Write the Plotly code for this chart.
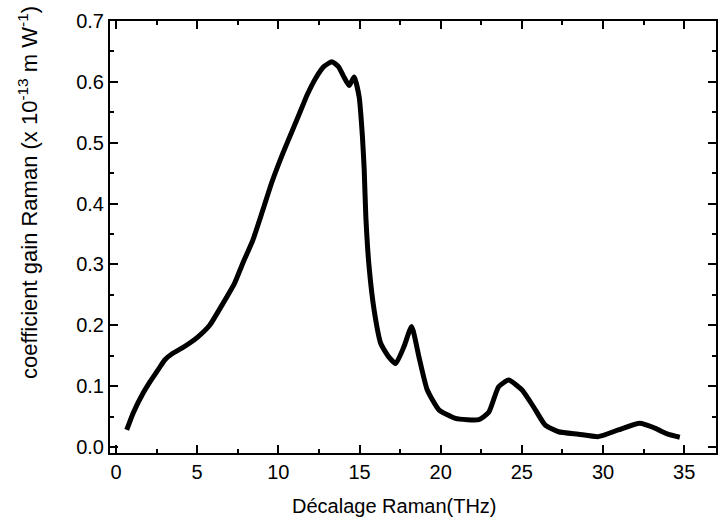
import plotly.graph_objects as go

# Raman shift (THz) and Raman gain coefficient (x1e-13 m/W)
shift_thz = [0.66, 1.06, 1.68, 2.09, 2.6, 3.0, 3.5, 4.03, 4.5, 5.05, 5.77, 6.59, 7.3,
             7.81, 8.43, 9.04, 9.6, 10.27, 10.8, 11.3, 11.8, 12.3, 12.8, 13.3, 13.7,
             14.0, 14.36, 14.67, 14.98, 15.18, 15.29, 15.39, 15.59, 15.9, 16.31,
             16.8, 17.23, 17.74, 18.21, 18.66, 19.17, 19.89, 20.91, 22.35, 22.96,
             23.57, 24.19, 25.0, 25.72, 26.44, 27.26, 28.48, 29.71, 30.94, 32.27,
             33.19, 34.0, 34.73]
gain = [0.028, 0.056, 0.089, 0.107, 0.127, 0.143, 0.154, 0.162, 0.17, 0.181, 0.2,
        0.236, 0.269, 0.302, 0.34, 0.389, 0.435, 0.482, 0.516, 0.548, 0.58, 0.606,
        0.625, 0.633, 0.625, 0.61, 0.594, 0.608, 0.575, 0.51, 0.455, 0.378, 0.296,
        0.225, 0.17, 0.148, 0.137, 0.165, 0.198, 0.148, 0.094, 0.061, 0.047, 0.045,
        0.057, 0.099, 0.11, 0.094, 0.066, 0.036, 0.025, 0.021, 0.017, 0.028, 0.039,
        0.031, 0.021, 0.016]

x_ticks = [0, 5, 10, 15, 20, 25, 30, 35]
y_ticks = [0.0, 0.1, 0.2, 0.3, 0.4, 0.5, 0.6, 0.7]

FONT = "Liberation Sans, Arial, sans-serif"

fig = go.Figure()
fig.add_trace(go.Scatter(x=shift_thz, y=gain, mode="lines",
                         line=dict(color="black", width=5, shape="spline", smoothing=0.5),
                         showlegend=False, hoverinfo="skip"))

axis_common = dict(showline=True, linecolor="black", linewidth=2, mirror="ticks",
                   ticks="inside", ticklen=8, tickwidth=2, tickcolor="black",
                   showgrid=False, zeroline=False,
                   tickfont=dict(family=FONT, size=20, color="black"))

fig.update_xaxes(range=[-0.37, 36.96], tickvals=x_ticks,
                 ticktext=[str(v) for v in x_ticks],
                 minor=dict(dtick=2.5, tick0=0, ticks="inside", ticklen=4,
                            tickwidth=2, tickcolor="black"),
                 **axis_common)
fig.update_yaxes(range=[-0.0099, 0.7], tickvals=y_ticks,
                 ticktext=[f"{v:.1f}" for v in y_ticks],
                 minor=dict(dtick=0.05, tick0=0, ticks="inside", ticklen=4,
                            tickwidth=2, tickcolor="black"),
                 **axis_common)

fig.add_annotation(text="Décalage Raman(THz)", xref="paper", yref="paper",
                   x=0.47, y=0, yshift=-40, showarrow=False, yanchor="top",
                   font=dict(family=FONT, size=20, color="black"))
fig.add_annotation(text="coefficient gain Raman (x 10<sup>-13</sup> m W<sup>-1</sup>)",
                   xref="paper", yref="paper", x=0, xshift=-82, y=0.0, yshift=260,
                   textangle=-90, showarrow=False, xanchor="center", yanchor="middle",
                   font=dict(family=FONT, size=22, color="black"))

fig.update_layout(width=718, height=521, plot_bgcolor="white", paper_bgcolor="white",
                  margin=dict(l=110, r=0, t=21, b=68),
                  font=dict(family=FONT, color="black"))

fig.write_html("out.html")
